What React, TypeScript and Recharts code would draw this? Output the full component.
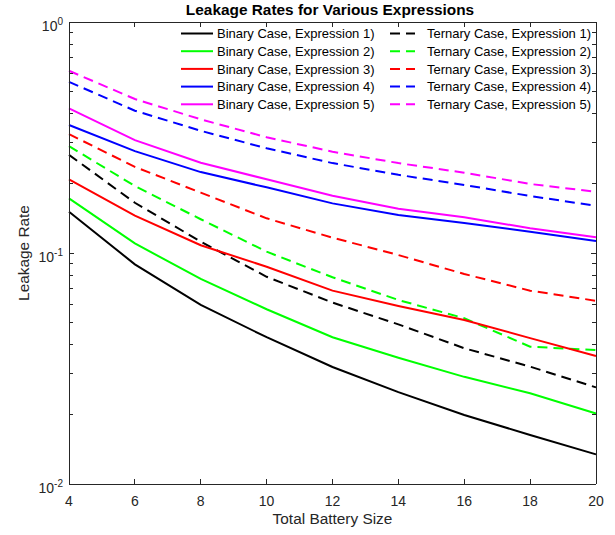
import { Legend, Line, LineChart, XAxis, YAxis } from 'recharts'

// battery sizes on the x axis
const batterySizes = [4, 6, 8, 10, 12, 14, 16, 18, 20]

// binary case, one list per expression
const binary1 = [0.151, 0.0893, 0.0596, 0.0432, 0.0321, 0.025, 0.0199, 0.0163, 0.01344]
const binary2 = [0.1725, 0.11, 0.0772, 0.0571, 0.0432, 0.0352, 0.0291, 0.0247, 0.0202]
const binary3 = [0.2085, 0.145, 0.108, 0.0872, 0.0687, 0.059, 0.0513, 0.0428, 0.0358]
const binary4 = [0.358, 0.276, 0.224, 0.1924, 0.164, 0.146, 0.135, 0.1236, 0.1127]
const binary5 = [0.423, 0.308, 0.246, 0.2085, 0.177, 0.1555, 0.1427, 0.128, 0.117]

// ternary case
const ternary1 = [0.266, 0.165, 0.112, 0.0789, 0.061, 0.0491, 0.0387, 0.0322, 0.0262]
const ternary2 = [0.29, 0.195, 0.14, 0.1013, 0.0785, 0.0626, 0.0522, 0.0393, 0.038]
const ternary3 = [0.327, 0.236, 0.1825, 0.1413, 0.1165, 0.098, 0.0811, 0.0687, 0.0621]
const ternary4 = [0.551, 0.413, 0.338, 0.284, 0.245, 0.218, 0.197, 0.1765, 0.16]
const ternary5 = [0.615, 0.464, 0.379, 0.317, 0.2745, 0.245, 0.2227, 0.199, 0.184]

const xTicks = [4, 6, 8, 10, 12, 14, 16, 18, 20]
const yTicks = [
  0.01, 0.02, 0.03, 0.04, 0.05, 0.06, 0.07, 0.08, 0.09,
  0.1, 0.2, 0.3, 0.4, 0.5, 0.6, 0.7, 0.8, 0.9, 1,
]
const yMajor = [0.01, 0.1, 1]
const yMajorExp = ['-2', '-1', '0']

const FONT = '"Liberation Sans", Arial, Helvetica, sans-serif'
const AXIS = '#262626'
const DASH = '10 6'

const series = [
  { key: 'b1', values: binary1, name: 'Binary Case, Expression 1)', color: '#000000', dashed: false },
  { key: 't1', values: ternary1, name: 'Ternary Case, Expression 1)', color: '#000000', dashed: true },
  { key: 'b2', values: binary2, name: 'Binary Case, Expression 2)', color: '#00ff00', dashed: false },
  { key: 't2', values: ternary2, name: 'Ternary Case, Expression 2)', color: '#00ff00', dashed: true },
  { key: 'b3', values: binary3, name: 'Binary Case, Expression 3)', color: '#ff0000', dashed: false },
  { key: 't3', values: ternary3, name: 'Ternary Case, Expression 3)', color: '#ff0000', dashed: true },
  { key: 'b4', values: binary4, name: 'Binary Case, Expression 4)', color: '#0000ff', dashed: false },
  { key: 't4', values: ternary4, name: 'Ternary Case, Expression 4)', color: '#0000ff', dashed: true },
  { key: 'b5', values: binary5, name: 'Binary Case, Expression 5)', color: '#ff00ff', dashed: false },
  { key: 't5', values: ternary5, name: 'Ternary Case, Expression 5)', color: '#ff00ff', dashed: true },
]

const data = batterySizes.map((x, i) => {
  const row: Record<string, number> = { x }
  series.forEach((s) => (row[s.key] = s.values[i]))
  return row
})

const axisLine = { stroke: AXIS, strokeWidth: 1, shapeRendering: 'crispEdges' } as any

// ticks point inward, MATLAB style
function LeftTick({ x, y, payload }: any) {
  const idx = yMajor.findIndex((m) => Math.abs(m - payload.value) < 1e-9)
  const major = idx >= 0
  return (
    <g>
      <path d={`M${x},${y}h${major ? 5 : 4}`} stroke={AXIS} strokeWidth={1} fill="none" shapeRendering="crispEdges" />
      {major && (
        <text x={x - 6} y={y + 9} textAnchor="end" fill={AXIS} stroke="none" fontSize={14} fontFamily={FONT}>
          10
          <tspan dy={-6.5} fontSize={10}>
            {yMajorExp[idx]}
          </tspan>
        </text>
      )}
    </g>
  )
}

function RightTick({ x, y, payload }: any) {
  const major = yMajor.some((m) => Math.abs(m - payload.value) < 1e-9)
  return <path d={`M${x},${y}h${major ? -5 : -4}`} stroke={AXIS} strokeWidth={1} fill="none" shapeRendering="crispEdges" />
}

function BottomTick({ x, y, payload }: any) {
  return (
    <g>
      <path d={`M${x},${y}v-5`} stroke={AXIS} strokeWidth={1} fill="none" shapeRendering="crispEdges" />
      <text x={x} y={y + 22} textAnchor="middle" fill={AXIS} stroke="none" fontSize={14} fontFamily={FONT}>
        {payload.value}
      </text>
    </g>
  )
}

function TopTick({ x, y }: any) {
  return <path d={`M${x},${y}v5`} stroke={AXIS} strokeWidth={1} fill="none" shapeRendering="crispEdges" />
}

// legend: two columns, box off
function LegendBox() {
  return (
    <svg width={615} height={120} style={{ display: 'block' }}>
      {series.map((s, i) => {
        const row = Math.floor(i / 2)
        const col = i % 2
        const cy = 33.5 + row * 17.7
        const x0 = col === 0 ? 181 : 390
        const x1 = col === 0 ? 213 : 415
        const tx = col === 0 ? 217 : 427
        return (
          <g key={s.key}>
            <line x1={x0} x2={x1} y1={cy} y2={cy} stroke={s.color} strokeWidth={2}
              strokeDasharray={s.dashed ? DASH : undefined} />
            <text x={tx} y={cy + 4.7} fontSize={13} fontFamily={FONT} fill="#000">
              {s.name}
            </text>
          </g>
        )
      })}
    </svg>
  )
}

export default function App() {
  return (
    <div style={{ position: 'absolute', left: 0, top: 0, width: 615, height: 535, background: '#fff' }}>
      <LineChart width={615} height={535} data={data} margin={{ top: 21, right: 18, left: 0, bottom: 0 }}>
        <XAxis xAxisId="bottom" dataKey="x" type="number" domain={[4, 20]} ticks={xTicks} interval={0}
          height={51} tickSize={0} tickMargin={0} axisLine={axisLine} tick={(p: any) => <BottomTick {...p} />} />
        <XAxis xAxisId="top" orientation="top" dataKey="x" type="number" domain={[4, 20]} ticks={xTicks}
          interval={0} height={1} tickSize={0} tickMargin={0} axisLine={axisLine} tick={(p: any) => <TopTick {...p} />} />
        <YAxis yAxisId="left" type="number" scale="log" domain={[0.01, 1]} allowDataOverflow ticks={yTicks}
          interval={0} width={69} tickSize={0} tickMargin={0} axisLine={axisLine} tick={(p: any) => <LeftTick {...p} />} />
        <YAxis yAxisId="right" orientation="right" type="number" scale="log" domain={[0.01, 1]} allowDataOverflow
          ticks={yTicks} interval={0} width={1} tickSize={0} tickMargin={0} axisLine={axisLine}
          tick={(p: any) => <RightTick {...p} />} />
        <Legend layout="vertical" verticalAlign="middle" align="center" content={<LegendBox />}
          wrapperStyle={{ left: 0, top: 0, width: 615, height: 120 }} />
        {series.map((s) => (
          <Line key={s.key} xAxisId="bottom" yAxisId="left" type="linear" dataKey={s.key} name={s.name}
            stroke={s.color} strokeWidth={2} strokeDasharray={s.dashed ? DASH : undefined}
            dot={false} activeDot={false} isAnimationActive={false} />
        ))}
      </LineChart>
      <svg width={615} height={535} style={{ position: 'absolute', left: 0, top: 0, pointerEvents: 'none' }}>
        <text x={330} y={15} textAnchor="middle" fontSize={15.4} fontWeight="bold" fontFamily={FONT} fill="#000">
          Leakage Rates for Various Expressions
        </text>
        <text x={332.5} y={524} textAnchor="middle" fontSize={15.4} fontFamily={FONT} fill={AXIS}>
          Total Battery Size
        </text>
        <text x={28.5} y={253} textAnchor="middle" fontSize={15.4} fontFamily={FONT} fill={AXIS}
          transform="rotate(-90 28.5 253)">
          Leakage Rate
        </text>
      </svg>
    </div>
  )
}
